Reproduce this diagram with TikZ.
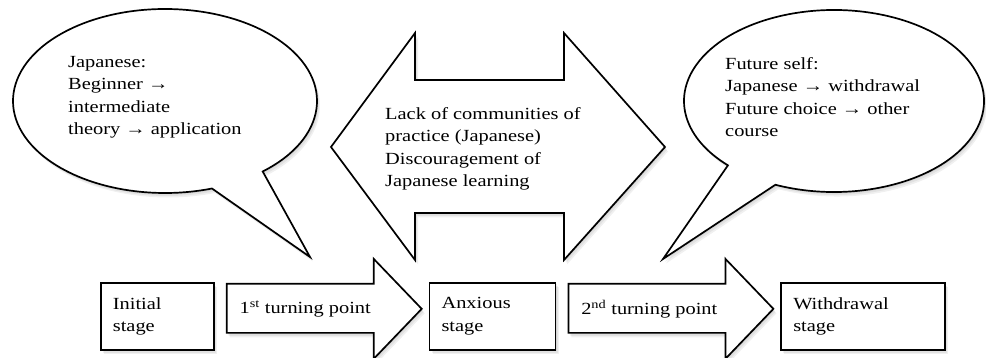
\documentclass[tikz,border=0pt]{standalone}
\usepackage{fontspec}
\setmainfont{Liberation Serif}[FakeStretch=1.2]
\usetikzlibrary{positioning,shadows,calc}

\begin{document}
\begin{tikzpicture}[x=1pt,y=1pt,
  shp/.style={draw,line width=1.7pt,fill=white,line join=miter,
    drop shadow={opacity=0.12,shadow xshift=1pt,shadow yshift=-1.5pt},
    drop shadow={opacity=0.12,shadow xshift=2pt,shadow yshift=-3pt},
    drop shadow={opacity=0.12,shadow xshift=3pt,shadow yshift=-4.5pt}},
  txt/.style={align=left,inner sep=0pt,font=\fontsize{17}{22.5}\selectfont},
  stagebox/.style={shp,txt,minimum height=67pt,inner xsep=12pt,inner ysep=0pt}]
  \useasboundingbox (0,0) rectangle (986,-358);
  % speech bubbles
  \draw[shp] (165,-101) ++(-50:152 and 92)
    arc[start angle=-50,end angle=288,x radius=152,y radius=92] -- (310,-257) -- cycle;
  \draw[shp] (834,-101) ++(247:150 and 91)
    arc[start angle=247,end angle=585,x radius=150,y radius=91] -- (663,-259) -- cycle;
  \node[txt,anchor=base west] (hopes) at (68,-135)
    {Japanese:\\Beginner →\\intermediate\\theory → application};
  \node[txt,anchor=base west] (future) at (725,-137)
    {Future self:\\Japanese → withdrawal\\Future choice → other\\course};
  % double arrow
  \draw[shp] (331,-147) -- (415,-33) -- (415,-80) -- (564,-80) -- (564,-33) -- (665,-147)
    -- (564,-260) -- (564,-213) -- (415,-213) -- (415,-260) -- cycle;
  \node[txt,anchor=base west] (lack) at (385,-187)
    {Lack of communities of\\practice (Japanese)\\Discouragement of\\Japanese learning};
  % stages
  \node[stagebox,text width=89pt,anchor=north west] (init) at (100,-282) {Initial\\stage};
  \node[stagebox,text width=102pt,right=214pt of init] (anx) {Anxious\\stage};
  \node[stagebox,text width=140pt,right=224pt of anx] (wdr) {Withdrawal\\stage};
  \foreach \a/\b/\s in {init/anx/1\textsuperscript{st},anx/wdr/2\textsuperscript{nd}}
    \draw[shp] let \p1=(\a.east), \p2=(\b.west) in
      (\x1+12pt,\y1+32.5pt) -- (\x2-55pt,\y1+32.5pt) -- (\x2-55pt,\y1+57.5pt)
      -- (\x2-7pt,\y1+7.5pt) -- (\x2-55pt,\y1-42.5pt) -- (\x2-55pt,\y1-16.5pt)
      -- (\x1+12pt,\y1-16.5pt) -- cycle
      node[txt,anchor=west] (tp\a) at (\x1+24pt,\y1+7.5pt) {\s\ turning point};
\end{tikzpicture}
\end{document}
